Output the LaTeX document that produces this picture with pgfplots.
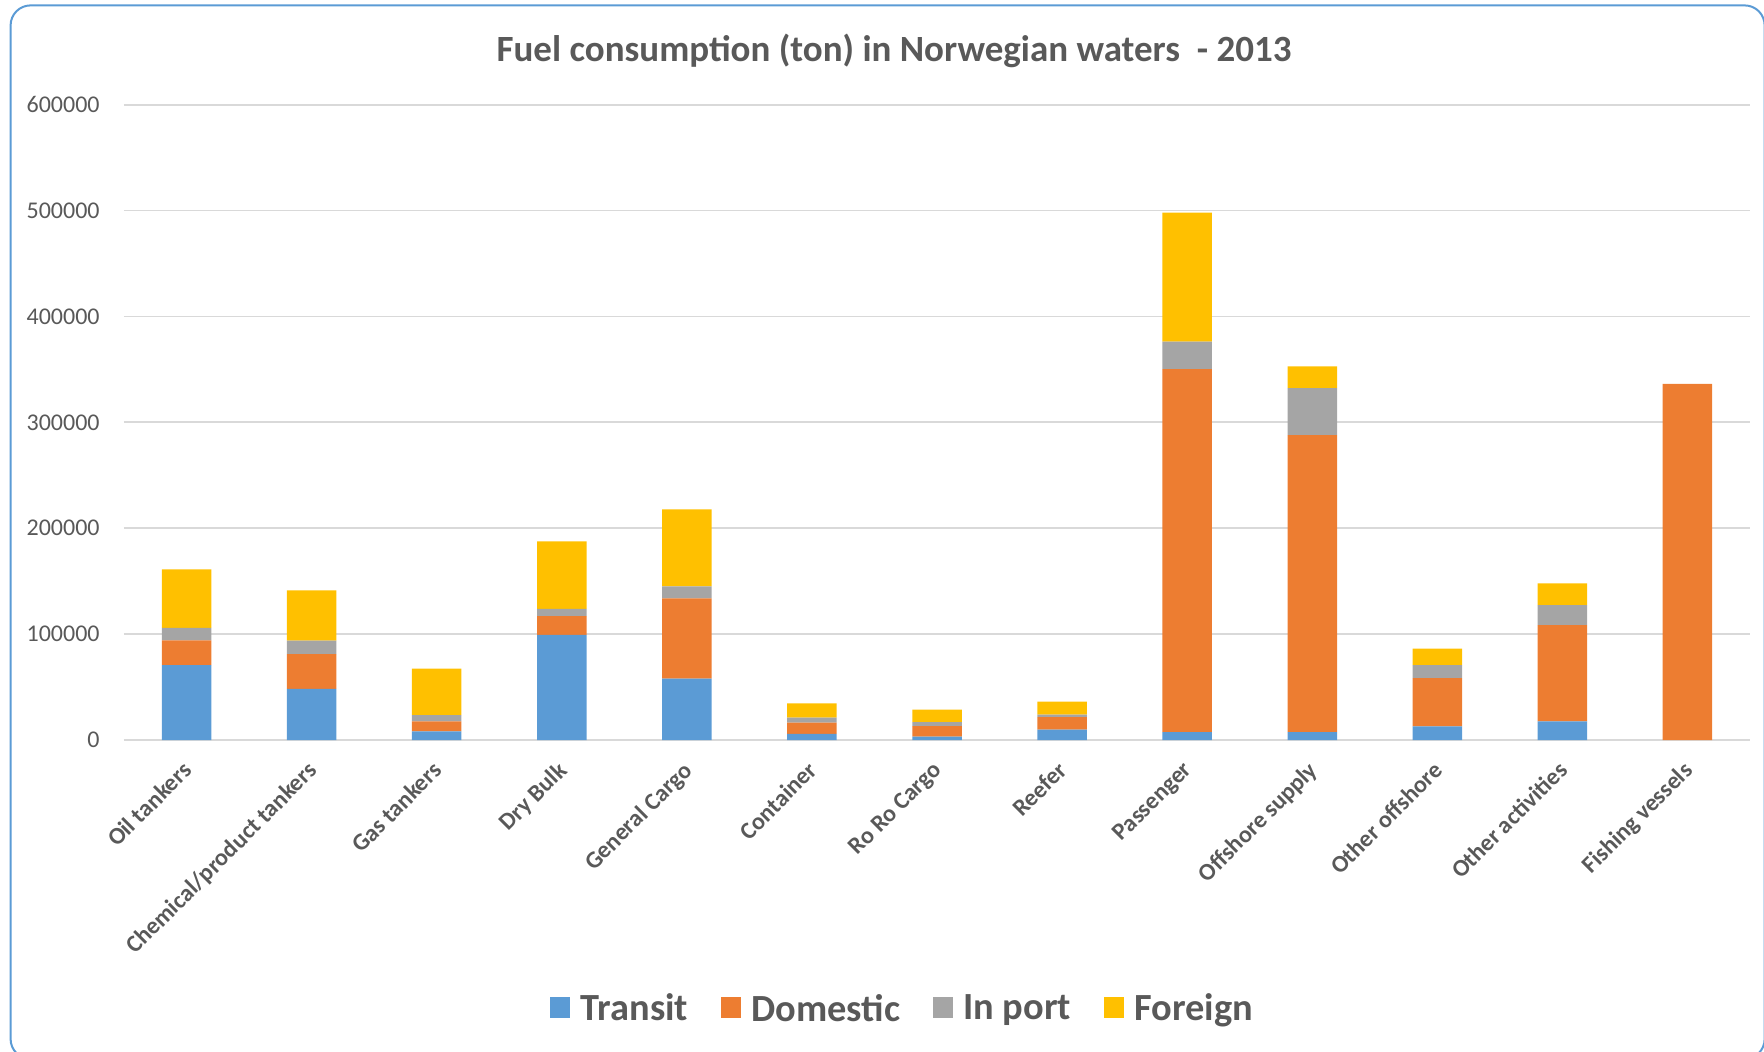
\documentclass[border=0pt]{standalone}
\usepackage{fontspec}
\setmainfont{Carlito}
\usepackage{pgfplots}
\pgfplotsset{compat=1.18}
\definecolor{cTransit}{HTML}{5B9BD5}
\definecolor{cDomestic}{HTML}{ED7D31}
\definecolor{cPort}{HTML}{A5A5A5}
\definecolor{cForeign}{HTML}{FFC000}
\definecolor{txt}{HTML}{595959}
\definecolor{gridc}{HTML}{D9D9D9}
\definecolor{frame}{HTML}{5B9BD5}
\begin{document}
\begin{tikzpicture}
\useasboundingbox (0,0) rectangle (882pt,525.5pt);
\begin{axis}[
  scale only axis,
  width=813pt, height=317.7pt,
  at={(62pt,155.5pt)}, anchor=south west,
  xmin=-0.5, xmax=12.5,
  ymin=0, ymax=600000,
  ybar stacked,
  bar width=24.75pt,
  xtick={0,...,12},
  xticklabels={Oil tankers, Chemical/product tankers, Gas tankers, Dry Bulk, General Cargo, Container, Ro Ro Cargo, Reefer, Passenger, Offshore supply, Other offshore, Other activities, Fishing vessels},
  ytick={0,100000,...,600000},
  scaled y ticks=false,
  /pgf/number format/.cd, fixed, 1000 sep={}, assume math mode=true,
  /pgfplots/.cd,
  ymajorgrids,
  grid style={gridc, line width=0.9pt},
  axis line style={draw=none},
  major tick length=0pt,
  yticklabel style={font=\fontsize{12}{13}\selectfont, text=txt, anchor=east, inner sep=0pt, xshift=-12pt},
  xticklabel style={font=\bfseries\fontsize{12}{14}\selectfont, text=txt, rotate=45, anchor=north east, inner sep=0pt, xshift=-8.9pt, yshift=-5pt},
  legend columns=4,
  legend style={draw=none, fill=none, at={(0.5,0)}, anchor=center, yshift=-134.5pt, xshift=-16.8pt,
    font=\bfseries\fontsize{19.2}{21}\selectfont, text=txt,
    /tikz/every even column/.append style={column sep=14.2pt}},
  legend image code/.code={\fill[#1] (0pt,-4.6pt) rectangle (10pt,5.8pt); \path (13.4pt,0pt);},
  clip=false,
]
\addplot[fill=cTransit, draw=none] coordinates {(0,70600) (1,48200) (2,8100) (3,99300) (4,58000) (5,5700) (6,3100) (7,9800) (8,7400) (9,7400) (10,12800) (11,17600) (12,0)};
\addplot[fill=cDomestic, draw=none] coordinates {(0,23600) (1,32800) (2,9500) (3,17700) (4,75700) (5,10700) (6,10100) (7,11900) (8,342700) (9,280600) (10,45600) (11,90800) (12,336300)};
\addplot[fill=cPort, draw=none] coordinates {(0,11800) (1,12900) (2,6000) (3,6900) (4,11300) (5,4700) (6,3800) (7,2200) (8,26000) (9,44200) (10,12200) (11,18900) (12,0)};
\addplot[fill=cForeign, draw=none] coordinates {(0,55100) (1,47300) (2,43800) (3,63700) (4,72900) (5,13500) (6,11600) (7,12300) (8,121900) (9,20600) (10,15800) (11,20600) (12,0)};
\legend{Transit, Domestic, In port, Foreign}
\end{axis}
\node[font=\bfseries\fontsize{18.5}{20}\selectfont, text=txt] at (447pt,500pt) {Fuel consumption (ton) in Norwegian waters\ \ - 2013};
\draw[frame, line width=1pt, rounded corners=10pt] (5.3pt,-4pt) rectangle (882.3pt,522.8pt);
\end{tikzpicture}
\end{document}
